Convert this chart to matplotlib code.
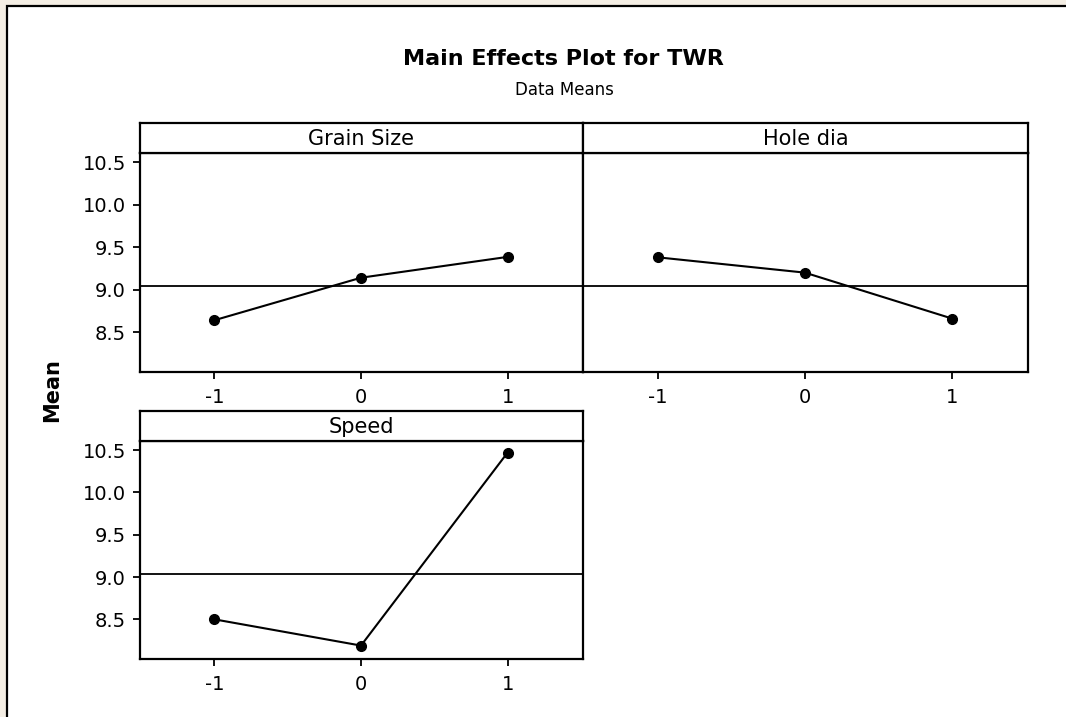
import matplotlib
matplotlib.use("Agg")
import matplotlib.pyplot as plt
from matplotlib.patches import Rectangle

# data
levels = [-1, 0, 1]
grain_size = [8.64, 9.14, 9.385]
hole_dia = [9.38, 9.20, 8.66]
speed = [8.50, 8.19, 10.47]
grand_mean = 9.04
yticks = [8.5, 9.0, 9.5, 10.0, 10.5]
factors = ["Grain Size", "Hole dia", "Speed"]

W, H = 1066, 717


def box(x0, y0, x1, y1):
    # pixel box (top-left origin) -> figure fraction rect
    return [x0 / W, 1 - y1 / H, (x1 - x0) / W, (y1 - y0) / H]


def main():
    plt.rcParams['font.family'] = 'DejaVu Sans'
    fig = plt.figure(figsize=(W / 100, H / 100), dpi=100)
    fig.patch.set_facecolor('#f4eee4')

    # outer white frame (cut off right and bottom like the original)
    frame = Rectangle((7 / W, -0.05), 1.1, 1 - 6 / H + 0.05, transform=fig.transFigure,
                      facecolor='white', edgecolor='black', linewidth=1.6, zorder=-5)
    fig.patches.append(frame)

    fig.text(563 / W, 1 - 59 / H, "Main Effects Plot for TWR", ha='center', va='center',
             fontsize=16, fontweight='bold')
    fig.text(564 / W, 1 - 90 / H, "Data Means", ha='center', va='center', fontsize=12)
    fig.text(52 / W, 1 - 390 / H, "Mean", ha='center', va='center', rotation=90,
             fontsize=15, fontweight='bold')

    panels = [
        (grain_size, (140, 123, 583, 152.7, 371.7), True),
        (hole_dia, (583, 123, 1027.7, 152.7, 371.7), False),
        (speed, (140, 411, 583, 440.7, 658.7), True),
    ]

    for i, (vals, (x0, ys, x1, ya, yb), show_y) in enumerate(panels):
        ax = fig.add_axes(box(x0, ya, x1, yb))
        ax.axhline(grand_mean, color='black', linewidth=1.3, zorder=1)
        ax.plot(levels, vals, color='black', linewidth=1.5, marker='o', markersize=7, zorder=2)
        ax.set_xlim(-1.507, 1.514)
        ax.set_ylim(8.035, 10.61)
        ax.set_xticks(levels)
        ax.set_xticklabels(["-1", "0", "1"])
        ax.set_yticks(yticks)
        ax.tick_params(axis='x', direction='out', length=5, width=1.3, labelsize=14, pad=7)
        ax.tick_params(axis='y', direction='out', length=5, width=1.3, labelsize=14, pad=5)
        if not show_y:
            ax.tick_params(axis='y', left=False, labelleft=False)
        for s in ax.spines.values():
            s.set_linewidth(1.6)

        st = fig.add_axes(box(x0, ys, x1, ya))
        st.set_xticks([])
        st.set_yticks([])
        for s in st.spines.values():
            s.set_linewidth(1.6)
        st.text(0.5, 0.45, factors[i], ha='center', va='center', fontsize=15,
                transform=st.transAxes)

    fig.savefig("out.png", dpi=100)
    plt.close(fig)


main()
